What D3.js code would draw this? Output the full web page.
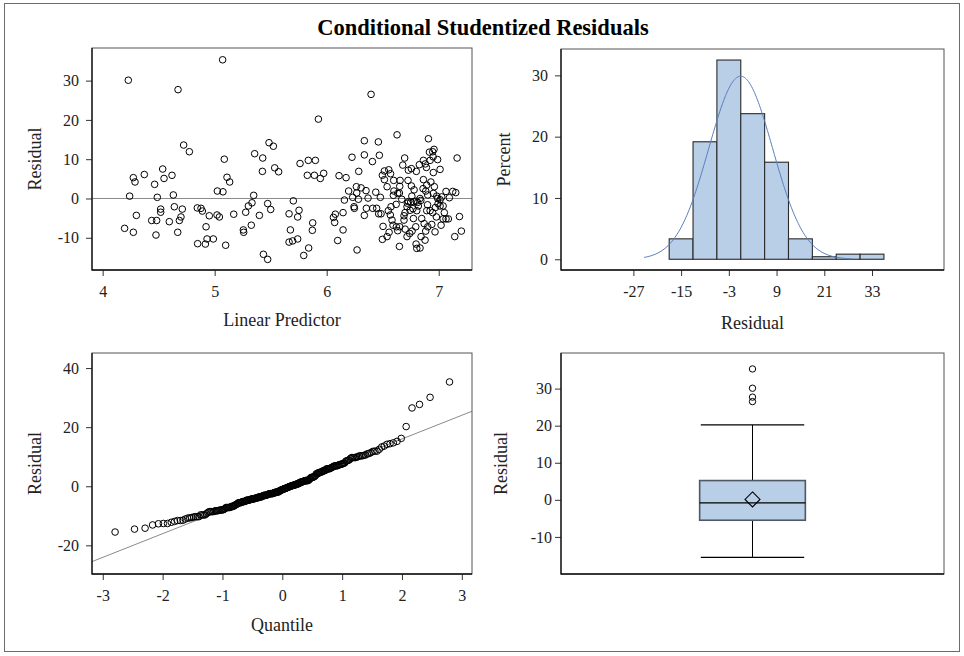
<!DOCTYPE html>
<html><head><meta charset="utf-8">
<script src="https://cdn.jsdelivr.net/npm/d3@7"></script>
<style>
html,body{margin:0;padding:0;background:#fff;}
svg{display:block;}
text{font-family:"Liberation Serif","Times New Roman",serif;fill:#222;}
</style></head>
<body><svg id="chart" width="964" height="656"></svg>
<script>
// ---------------- DATA ----------------
const linearPredictor = [
4.229,5.071,4.673,6.396,5.926,6.628,6.908,4.723,4.774,5.485,5.524,6.336,6.461,5.357,5.429,5.086,6.226,6.336,6.470,6.408,
6.696,6.917,6.946,6.958,7.164,5.762,5.836,5.899,4.536,4.274,4.289,4.372,4.464,4.548,4.619,4.241,4.488,4.631,5.110,5.134,
5.024,5.074,5.426,5.536,5.571,5.827,5.890,5.943,5.973,5.348,6.110,6.173,6.286,6.196,6.265,6.307,6.351,6.268,6.232,6.283,
6.158,6.369,6.438,6.479,6.497,6.515,6.554,6.515,6.539,6.598,6.655,6.649,6.679,6.729,6.756,6.726,6.756,6.780,6.827,6.863,
6.890,6.923,6.990,7.012,6.952,6.863,6.893,6.961,6.884,6.902,6.952,6.982,6.991,7.012,7.027,7.065,7.095,7.125,7.152,6.729,
6.750,6.774,6.798,6.812,6.833,4.518,4.518,4.301,4.438,4.482,4.595,4.640,4.711,4.699,4.685,4.196,4.274,4.476,4.670,4.845,
4.878,4.890,4.952,5.021,5.042,5.170,4.923,4.848,4.917,4.932,4.988,5.098,5.277,5.301,5.333,5.399,5.327,5.256,5.259,5.473,
5.500,5.435,5.473,5.702,5.664,5.753,5.741,5.676,5.664,5.696,5.741,5.839,5.795,5.875,5.872,6.060,6.077,6.071,6.146,6.146,
6.098,6.244,6.247,6.336,6.271,6.354,6.411,6.446,6.464,6.485,6.574,6.568,6.583,6.592,6.503,6.557,6.497,6.539,6.622,6.652,
6.634,6.649,6.690,6.699,6.717,6.744,6.717,6.741,6.762,6.774,6.804,6.818,6.848,6.795,6.798,6.804,6.833,6.842,6.878,6.884,
6.902,6.938,6.967,6.923,6.946,6.979,7.039,7.065,7.086,7.021,6.994,7.012,7.039,7.185,7.202,7.143,6.893,6.634,6.670,6.595,
6.652,6.86,6.93,6.60,6.76,6.88,6.95,6.57,6.80,6.70,6.87,6.62,6.69,6.77,6.84,6.90,6.97,6.55,6.72,7.05
];
const residual = [
30.1,35.3,27.7,26.5,20.2,16.2,15.2,13.6,11.9,14.2,13.3,14.7,14.4,11.4,10.3,10.0,10.5,11.1,11.0,9.4,
10.3,11.8,11.9,12.5,10.3,8.9,9.7,9.7,7.5,5.3,4.2,6.1,3.6,5.1,5.9,0.6,0.3,0.9,5.4,4.2,
1.9,1.7,6.9,7.8,6.8,5.9,5.9,5.1,6.4,0.8,5.8,5.3,6.9,1.9,3.0,2.7,2.0,1.4,0.3,-0.2,
-0.4,0.1,1.6,0.3,5.9,7.0,7.3,4.8,3.0,4.6,4.6,1.4,8.5,7.2,7.6,4.6,3.2,2.2,8.6,9.7,
7.9,9.7,9.9,7.4,6.6,4.8,3.4,3.0,1.9,0.9,1.3,0.6,0.0,-0.3,0.4,1.8,0.2,1.8,1.5,-0.8,
-0.9,-0.8,-0.7,-1.0,0.0,-2.7,-3.5,-4.3,-5.6,-5.6,-5.9,-2.1,-2.7,-4.7,-5.6,-7.6,-8.6,-9.3,-8.6,-2.4,
-2.5,-3.2,-4.4,-4.2,-4.7,-4.0,-7.2,-11.5,-11.6,-10.3,-10.3,-11.9,-3.5,-1.9,-1.1,-4.3,-6.8,-8.0,-8.6,-1.3,
-2.8,-14.2,-15.5,-0.6,-3.9,-3.0,-4.7,-8.0,-11.1,-10.8,-10.3,-12.6,-14.5,-6.2,-8.1,-4.8,-4.0,-6.1,-3.6,-8.0,
-10.7,-2.1,-2.5,-4.3,-13.1,-2.5,-2.5,-2.5,-3.9,-3.9,-2.1,-4.2,-5.5,-6.8,-7.1,-8.6,-10.4,-9.7,-7.2,-7.2,
-8.2,-12.2,-5.5,-3.6,-2.1,-3.0,-9.7,-8.9,-8.3,-5.1,-3.1,-1.9,-5.1,-7.2,-11.6,-12.7,-12.6,-9.7,-10.6,-8.3,
-7.2,-6.6,-8.5,-3.1,-3.6,-4.7,-5.2,-5.2,-5.2,-6.8,-1.3,-1.9,-1.9,-4.6,-8.3,-9.7,-3.1,1.3,-0.2,0.8,
3.1,2.5,4.2,1.9,0.6,8.8,10.6,6.3,6.9,-7.8,-6.4,-1.5,-4.4,-2.6,-0.5,-1.6,-2.3,-3.1,-1.2,-3.6
];
// histogram bin edges and tick labels (bin midpoints)
const histEdges = [-18,-12,-6,0,6,12,18,24,30,36];
const histTicks = [-27,-15,-3,9,21,33];
// box plot statistics
const boxStatNames  = ["min","q1","median","q3","max","mean"];
const boxStatValues = [-15.5,-5.5,-0.8,5.2,20.2,0.1];
// axis ticks
const scatterXTicks = [4,5,6,7];
const scatterYTicks = [-10,0,10,20,30];
const histYTicks = [0,10,20,30];
const qqXTicks = [-3,-2,-1,0,1,2,3];
const qqYTicks = [-20,0,20,40];
const boxYTicks = [-10,0,10,20,30];

// ---------------- HELPERS ----------------
function invNorm(p){
  const a=[-3.969683028665376e+01,2.209460984245205e+02,-2.759285104469687e+02,1.383577518672690e+02,-3.066479806614716e+01,2.506628277459239e+00];
  const b=[-5.447609879822406e+01,1.615858368580409e+02,-1.556989798598866e+02,6.680131188771972e+01,-1.328068155288572e+01];
  const c=[-7.784894002430293e-03,-3.223964580411365e-01,-2.400758277161838e+00,-2.549732539343734e+00,4.374664141464968e+00,2.938163982698783e+00];
  const d=[7.784695709041462e-03,3.224671290700398e-01,2.445134137142996e+00,3.754408661907416e+00];
  const pl=0.02425, ph=1-pl; let q,r;
  if(p<pl){q=Math.sqrt(-2*Math.log(p));return (((((c[0]*q+c[1])*q+c[2])*q+c[3])*q+c[4])*q+c[5])/((((d[0]*q+d[1])*q+d[2])*q+d[3])*q+1);}
  if(p<=ph){q=p-0.5;r=q*q;return (((((a[0]*r+a[1])*r+a[2])*r+a[3])*r+a[4])*r+a[5])*q/(((((b[0]*r+b[1])*r+b[2])*r+b[3])*r+b[4])*r+1);}
  q=Math.sqrt(-2*Math.log(1-p));return -(((((c[0]*q+c[1])*q+c[2])*q+c[3])*q+c[4])*q+c[5])/((((d[0]*q+d[1])*q+d[2])*q+d[3])*q+1);
}
const fmt = v => String(v); // plain hyphen-minus like the reference

const svg = d3.select("#chart");
const TICK_FS = 16, LABEL_FS = 18;

svg.append("rect").attr("x",4.5).attr("y",3.5).attr("width",955).attr("height",648)
  .attr("fill","#fff").attr("stroke","#6b6b6b").attr("stroke-width",1);

svg.append("text").attr("x",483).attr("y",35).attr("text-anchor","middle")
  .attr("font-size",22.5).attr("font-weight","bold").style("fill","#000")
  .text("Conditional Studentized Residuals");

function panel(box, x, y, opts){
  const g = svg.append("g");
  g.append("rect").attr("x",box.x0).attr("y",box.y0).attr("width",box.x1-box.x0).attr("height",box.y1-box.y0)
    .attr("fill","none").attr("stroke","#555").attr("stroke-width",1);
  if(opts.yTicks){
    const ay = g.append("g").attr("transform",`translate(${box.x0},0)`)
      .call(d3.axisLeft(y).tickValues(opts.yTicks).tickSize(6).tickPadding(opts.yPad||7).tickSizeOuter(0).tickFormat(fmt));
    ay.select(".domain").remove();
    ay.selectAll("line").attr("stroke","#333");
    ay.selectAll("text").attr("font-size",TICK_FS).attr("font-family","Liberation Serif, serif").style("fill","#222");
  }
  if(opts.xTicks){
    const ax = g.append("g").attr("transform",`translate(0,${box.y1})`)
      .call(d3.axisBottom(x).tickValues(opts.xTicks).tickSize(6).tickPadding(10).tickSizeOuter(0).tickFormat(fmt));
    ax.select(".domain").remove();
    ax.selectAll("line").attr("stroke","#333");
    ax.selectAll("text").attr("font-size",TICK_FS).attr("font-family","Liberation Serif, serif").style("fill","#222");
  }
  g.append("line").attr("x1",box.x0).attr("x2",box.x0).attr("y1",box.y0).attr("y2",box.y1+0.5).attr("stroke","#111").attr("stroke-width",1.3);
  g.append("line").attr("x1",box.x0).attr("x2",box.x1).attr("y1",box.y1).attr("y2",box.y1).attr("stroke","#111").attr("stroke-width",1.3);
  if(opts.yLabel){
    g.append("text").attr("transform",`translate(${opts.yLabelX},${(box.y0+box.y1)/2}) rotate(-90)`)
      .attr("text-anchor","middle").attr("font-size",LABEL_FS).text(opts.yLabel);
  }
  if(opts.xLabel){
    g.append("text").attr("x",(box.x0+box.x1)/2).attr("y",opts.xLabelY).attr("text-anchor","middle")
      .attr("font-size",LABEL_FS).text(opts.xLabel);
  }
  return g;
}

const n = residual.length;
const mu = d3.mean(residual), sd = d3.deviation(residual);

// ---------------- PANEL 1: scatter ----------------
{
  const box = {x0:92,x1:472,y0:48,y1:270};
  const x = d3.scaleLinear().domain([3.905,7.297]).range([box.x0,box.x1]);
  const y = d3.scaleLinear().domain([-18.2,38.3]).range([box.y1,box.y0]);
  const g = svg.append("g");
  g.append("line").attr("x1",box.x0).attr("x2",box.x1).attr("y1",y(0)).attr("y2",y(0)).attr("stroke","#8a8a8a").attr("stroke-width",1);
  g.selectAll("circle").data(residual).join("circle")
    .attr("cx",(d,i)=>x(linearPredictor[i])).attr("cy",d=>y(d)).attr("r",3.3)
    .attr("fill","none").attr("stroke","#000").attr("stroke-width",1);
  panel(box,x,y,{xTicks:scatterXTicks,yTicks:scatterYTicks,yLabel:"Residual",yLabelX:41,xLabel:"Linear Predictor",xLabelY:326});
}

// ---------------- PANEL 2: histogram ----------------
{
  const box = {x0:561,x1:944,y0:49,y1:270};
  const x = d3.scaleLinear().domain([-45.2,51.1]).range([box.x0,box.x1]);
  const y = d3.scaleLinear().domain([-1.75,34.3]).range([box.y1,box.y0]);
  const bins = d3.bin().domain([histEdges[0],histEdges[histEdges.length-1]]).thresholds(histEdges.slice(1,-1))(residual);
  const g = svg.append("g");
  g.selectAll("rect.bar").data(bins).join("rect").attr("class","bar")
    .attr("x",d=>x(d.x0)).attr("width",d=>x(d.x1)-x(d.x0))
    .attr("y",d=>y(d.length/n*100)).attr("height",d=>y(0)-y(d.length/n*100))
    .attr("fill","#b9cfe7").attr("stroke","#2a2a2a").attr("stroke-width",1.1);
  const bw = histEdges[1]-histEdges[0];
  const curve = d3.range(-24.3,28.01,0.25).map(v=>[v,100*bw*Math.exp(-0.5*((v-mu)/sd)**2)/(sd*Math.sqrt(2*Math.PI))]);
  g.append("path").datum(curve).attr("d",d3.line().x(d=>x(d[0])).y(d=>y(d[1])))
    .attr("fill","none").attr("stroke","#5b7fbf").attr("stroke-width",1);
  panel(box,x,y,{xTicks:histTicks,yTicks:histYTicks,yLabel:"Percent",yLabelX:510,xLabel:"Residual",xLabelY:329});
}

// ---------------- PANEL 3: QQ ----------------
{
  const box = {x0:92,x1:472,y0:353,y1:574};
  const x = d3.scaleLinear().domain([-3.18,3.17]).range([box.x0,box.x1]);
  const y = d3.scaleLinear().domain([-29.7,45.1]).range([box.y1,box.y0]);
  const sorted = residual.slice().sort(d3.ascending);
  const qq = sorted.map((v,i)=>[invNorm((i+1-0.375)/(n+0.25)),v]);
  const g = svg.append("g");
  g.append("line").attr("x1",x(-3.18)).attr("x2",x(3.17)).attr("y1",y(mu+sd*-3.18)).attr("y2",y(mu+sd*3.17))
    .attr("stroke","#8a8a8a").attr("stroke-width",1);
  g.selectAll("circle").data(qq).join("circle")
    .attr("cx",d=>x(d[0])).attr("cy",d=>y(d[1])).attr("r",3.3)
    .attr("fill","none").attr("stroke","#000").attr("stroke-width",1);
  panel(box,x,y,{xTicks:qqXTicks,yTicks:qqYTicks,yLabel:"Residual",yLabelX:41,xLabel:"Quantile",xLabelY:631});
}

// ---------------- PANEL 4: box plot ----------------
{
  const box = {x0:561,x1:944,y0:353,y1:574};
  const stat = Object.fromEntries(boxStatNames.map((k,i)=>[k,boxStatValues[i]]));
  const x = d3.scaleBand().domain(["Residual"]).range([box.x0,box.x1]).paddingInner(0).paddingOuter(0);
  const y = d3.scaleLinear().domain([-20,39.6]).range([box.y1,box.y0]);
  const cx = x("Residual")+x.bandwidth()/2, bw = x.bandwidth()*0.276, cw = x.bandwidth()*0.135;
  const outliers = residual.filter(v=>v>stat.max || v<stat.min);
  const g = svg.append("g");
  g.append("line").attr("x1",cx).attr("x2",cx).attr("y1",y(stat.q3)).attr("y2",y(stat.max)).attr("stroke","#000");
  g.append("line").attr("x1",cx).attr("x2",cx).attr("y1",y(stat.q1)).attr("y2",y(stat.min)).attr("stroke","#000");
  g.append("line").attr("x1",cx-cw).attr("x2",cx+cw).attr("y1",y(stat.max)).attr("y2",y(stat.max)).attr("stroke","#000").attr("stroke-width",1.2);
  g.append("line").attr("x1",cx-cw).attr("x2",cx+cw).attr("y1",y(stat.min)).attr("y2",y(stat.min)).attr("stroke","#000").attr("stroke-width",1.2);
  g.append("rect").attr("x",cx-bw/2).attr("width",bw).attr("y",y(stat.q3)).attr("height",y(stat.q1)-y(stat.q3))
    .attr("fill","#b9cfe7").attr("stroke","#4f5966").attr("stroke-width",1.6);
  g.append("line").attr("x1",cx-bw/2).attr("x2",cx+bw/2).attr("y1",y(stat.median)).attr("y2",y(stat.median)).attr("stroke","#000").attr("stroke-width",1.2);
  const dm = 7.5, my = y(stat.mean);
  g.append("path").attr("d",`M${cx},${my-dm}L${cx+dm},${my}L${cx},${my+dm}L${cx-dm},${my}Z`)
    .attr("fill","none").attr("stroke","#000").attr("stroke-width",1.1);
  g.selectAll("circle").data(outliers).join("circle")
    .attr("cx",cx).attr("cy",d=>y(d)).attr("r",3.2).attr("fill","none").attr("stroke","#000");
  panel(box,x,y,{yTicks:boxYTicks,yPad:3,yLabel:"Residual",yLabelX:507});
}
</script></body></html>
